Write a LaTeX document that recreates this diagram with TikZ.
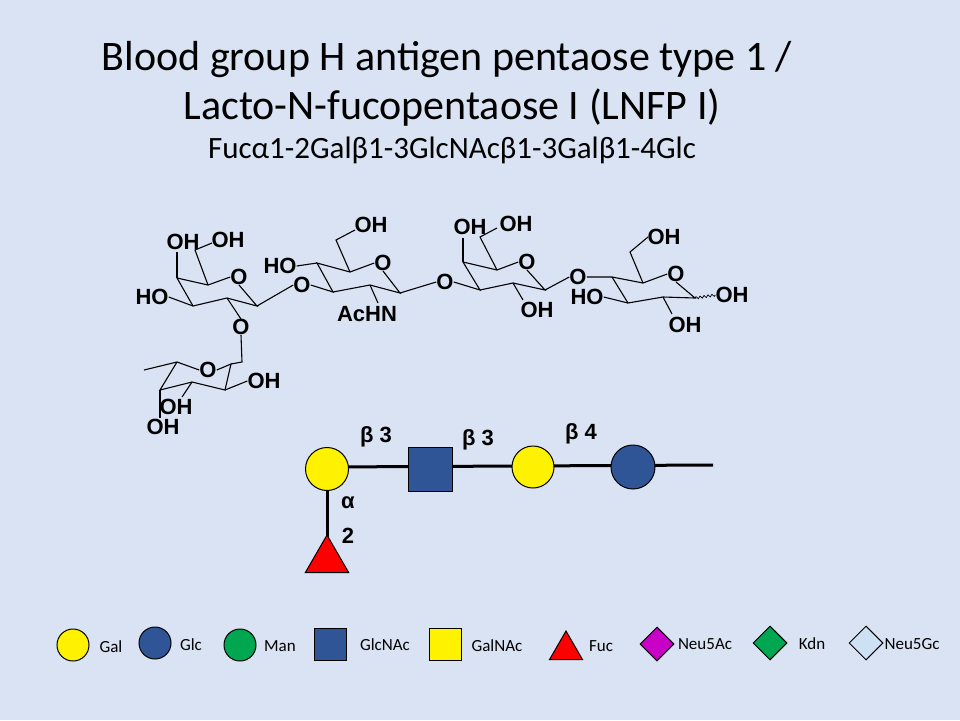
\documentclass[tikz,border=0pt]{standalone}
\usepackage{fontspec}
\setmainfont{Carlito}
\newfontfamily\arialf{Liberation Sans}
\usetikzlibrary{shapes.geometric,decorations.pathmorphing}
\definecolor{bg}{RGB}{218,227,243}
\definecolor{glcblue}{RGB}{47,85,151}
\definecolor{mangreen}{RGB}{0,166,80}
\definecolor{neuac}{RGB}{200,0,200}
\definecolor{neugc}{RGB}{205,225,245}
\begin{document}
\begin{tikzpicture}[x=1pt,y=-1pt,
  bond/.style={line width=1.1pt},
  atm/.style={font=\arialf\bfseries\fontsize{22}{22}\selectfont,inner sep=0pt},
  lk/.style={font=\arialf\bfseries\fontsize{22}{22}\selectfont,inner sep=0pt},
  sym/.style={draw=black,line width=1pt},
  leg/.style={font=\fontsize{17}{17}\selectfont,inner sep=0pt}]
\fill[bg] (0,0) rectangle (960,720);
\useasboundingbox (0,0) rectangle (960,720);
% titles
\node[font=\fontsize{42}{42}\selectfont] (t1) at (447,60) {Blood group H antigen pentaose type 1 /};
\node[font=\fontsize{42}{42}\selectfont] (t2) at (452,108) {Lacto-N-fucopentaose I (LNFP I)};
\node[font=\fontsize{31}{31}\selectfont] (t3) at (452,150) {Fucα1-2Galβ1-3GlcNAcβ1-3Galβ1-4Glc};
% ---- Gal (left)
\node[atm] (o1) at (239,277) {O};
\draw[bond] (177,278) -- (208,285) -- (o1.west);
\draw[bond] (o1.south) -- (257,306) -- (227,298) -- (193,306) -- (177,278);
\draw[bond] (177,278) -- (177,252);
\node[atm] (oh1) at (183,242) {OH};
\draw[bond] (208,285) -- (195,250) -- (212,243);
\node[atm] (oh2) at (228,240) {OH};
\node[atm] (ho1) at (152,297) {HO};
\draw[bond] (193,306) -- (ho1.east);
\node[atm] (o2) at (241,327) {O};
\draw[bond] (227,298) -- (o2.north);
\node[atm] (o3) at (302,285) {O};
\draw[bond] (257,306) -- (o3.west);
% ---- Fuc
\node[atm] (of) at (208,370) {O};
\draw[bond] (o2.south) -- (242,362) -- (231,364);
\draw[bond] (177,362) -- (of.west);
\draw[bond] (of.east) -- (231,364) -- (225,390) -- (192,382) -- (160,390) -- (177,362);
\draw[bond] (177,362) -- (144,370);
\node[atm] (oh3) at (264,381) {OH};
\draw[bond] (225,390) -- (oh3.west);
\node[atm] (oh4) at (176,407) {OH};
\draw[bond] (192,382) -- (182,397);
\node[atm] (oh5) at (163,427) {OH};
\draw[bond] (160,390) -- (160,418);
% ---- GlcNAc
\node[atm] (o4) at (383,263) {O};
\draw[bond] (o3.east) -- (333,292) -- (317,263) -- (350,272) -- (o4.west);
\draw[bond] (o4.south) -- (400,293) -- (370,285) -- (333,292);
\node[atm] (ho2) at (280,266) {HO};
\draw[bond] (ho2.east) -- (317,263);
\draw[bond] (350,272) -- (336,240) -- (355,230);
\node[atm] (oh6) at (371,225) {OH};
\node[atm] (achn) at (367,314) {AcHN};
\draw[bond] (370,285) -- (378,303);
\node[atm] (o5) at (445,282) {O};
\draw[bond] (400,293) -- (o5.west);
% ---- Gal (middle)
\node[atm] (o6) at (527,262) {O};
\draw[bond] (o5.east) -- (480,290) -- (463,262) -- (497,270) -- (o6.west);
\draw[bond] (o6.south) -- (545,290) -- (513,283) -- (480,290);
\draw[bond] (463,262) -- (463,238);
\node[atm] (oh7) at (470,227) {OH};
\draw[bond] (497,270) -- (480,237) -- (497,228);
\node[atm] (oh8) at (516,224) {OH};
\node[atm] (oh9) at (537,310) {OH};
\draw[bond] (513,283) -- (523,300);
\node[atm] (o7) at (578,277) {O};
\draw[bond] (545,290) -- (o7.west);
% ---- Glc
\node[atm] (o8) at (676,274) {O};
\draw[bond] (o7.east) -- (612,277) -- (643,283) -- (o8.west);
\draw[bond] (612,277) -- (628,303) -- (663,297) -- (695,298) -- (o8.south);
\draw[bond] (643,283) -- (630,252) -- (648,237);
\node[atm] (oh10) at (664,237) {OH};
\node[atm] (ho3) at (587,297) {HO};
\draw[bond] (628,303) -- (ho3.east);
\node[atm] (oh11) at (685,325) {OH};
\draw[bond] (663,297) -- (672,314);
\node[atm] (oh12) at (732,295) {OH};
\draw[line width=0.7pt,decorate,decoration={snake,amplitude=1.2pt,segment length=4pt}] (695,298) -- (oh12.west);
% ---- symbol nomenclature
\draw[line width=3pt] (327,467) -- (713,465);
\draw[line width=3pt] (327,467) -- (327,540);
\node[sym,circle,fill=yellow,minimum size=43pt,inner sep=0pt] (s1) at (327,469) {};
\node[sym,rectangle,fill=glcblue,minimum size=44pt,inner sep=0pt] (s2) at (430,469) {};
\node[sym,circle,fill=yellow,minimum size=42pt,inner sep=0pt] (s3) at (533,467) {};
\node[sym,circle,fill=glcblue,minimum size=44pt,inner sep=0pt] (s4) at (633,467) {};
\node[sym,regular polygon,regular polygon sides=3,fill=red,minimum size=50pt,inner sep=0pt] (s5) at (327,560) {};
\node[lk] (l1) at (376,437) {β 3};
\node[lk] (l2) at (478,440) {β 3};
\node[lk] (l3) at (581,434) {β 4};
\node[lk] (l4) at (348,503) {α};
\node[lk] (l5) at (348,536) {2};
% ---- legend
\node[sym,circle,fill=yellow,minimum size=32pt,inner sep=0pt] (g1) at (73,645) {};
\node[leg] (gt1) at (111,647) {Gal};
\node[sym,circle,fill=glcblue,minimum size=32pt,inner sep=0pt] (g2) at (155,643) {};
\node[leg] (gt2) at (191,645) {Glc};
\node[sym,circle,fill=mangreen,minimum size=32pt,inner sep=0pt] (g3) at (240,645) {};
\node[leg] (gt3) at (280,646) {Man};
\node[sym,rectangle,fill=glcblue,minimum size=32pt,inner sep=0pt] (g4) at (330,644) {};
\node[leg] (gt4) at (385,645) {GlcNAc};
\node[sym,rectangle,fill=yellow,minimum size=32pt,inner sep=0pt] (g5) at (445,644) {};
\node[leg] (gt5) at (497,646) {GalNAc};
\node[sym,regular polygon,regular polygon sides=3,fill=red,minimum size=38pt,inner sep=0pt] (g6) at (566,650) {};
\node[leg] (gt6) at (601,646) {Fuc};
\node[sym,diamond,fill=neuac,minimum size=34pt,inner sep=0pt] (g7) at (657,644) {};
\node[leg] (gt7) at (705,644) {Neu5Ac};
\node[sym,diamond,fill=mangreen,minimum size=34pt,inner sep=0pt] (g8) at (770,643) {};
\node[leg] (gt8) at (812,644) {Kdn};
\node[sym,diamond,fill=neugc,minimum size=34pt,inner sep=0pt] (g9) at (866,643) {};
\node[leg] (gt9) at (912,644) {Neu5Gc};
\end{tikzpicture}
\end{document}
